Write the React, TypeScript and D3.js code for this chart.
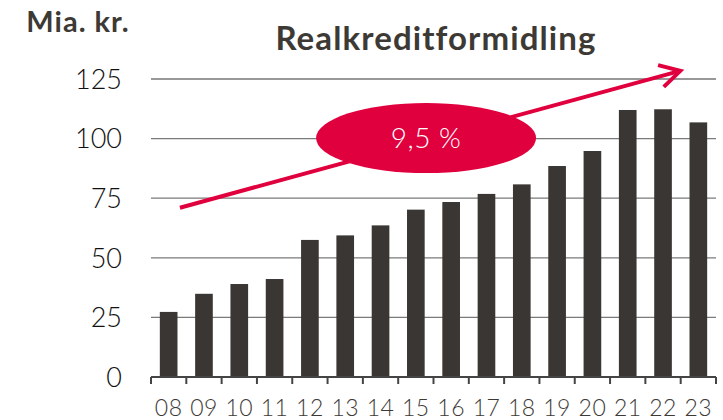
import React, { useEffect, useRef } from 'react';
import * as d3 from 'd3';

const years = ['08', '09', '10', '11', '12', '13', '14', '15', '16', '17', '18', '19', '20', '21', '22', '23'];
const volumes = [27.3, 34.9, 39.0, 41.1, 57.5, 59.4, 63.6, 70.2, 73.4, 76.8, 80.8, 88.5, 94.8, 112.0, 112.3, 106.8];
const yTicks = [0, 25, 50, 75, 100, 125];
const growthLabel = '9,5 %';
const trendStart = { i: 0.82, v: 71 };
const trendEnd = { i: 14.99, v: 128.4 };
const bubble = { i: 7.79, v: 100.2 };

const W = 723;
const H = 420;
const RED = '#e0003e';
const DARK = '#3a3633';

const App: React.FC = () => {
  const svgRef = useRef<SVGSVGElement>(null);

  useEffect(() => {
    if (!svgRef.current) return;
    const svg = d3.select(svgRef.current);
    svg.selectAll('*').remove();

    const left = 151;
    const right = 716;
    const bottom = 377;
    const top = 79;

    const x = d3.scaleBand<string>()
      .domain(years)
      .range([left, right])
      .paddingInner(0.5)
      .paddingOuter(0.25);
    const xi = d3.scaleLinear().domain([0, years.length]).range([left, right]);
    const y = d3.scaleLinear().domain([0, 125]).range([bottom, top]);

    // gridlines
    svg.append('g')
      .selectAll('line')
      .data(yTicks.filter(t => t > 0))
      .enter()
      .append('line')
      .attr('x1', left)
      .attr('x2', right)
      .attr('y1', (d: number) => y(d))
      .attr('y2', (d: number) => y(d))
      .attr('stroke', (d: number) => (d === 125 ? '#333' : '#7a7a7a'))
      .attr('stroke-width', 1.2);

    // y labels
    svg.append('g')
      .selectAll('text')
      .data(yTicks)
      .enter()
      .append('text')
      .attr('x', 122)
      .attr('y', (d: number) => y(d))
      .attr('dy', '0.36em')
      .attr('text-anchor', 'end')
      .style('font-family', 'Lato, sans-serif')
      .style('font-weight', 300)
      .style('font-size', '27px')
      .style('fill', '#111')
      .text((d: number) => String(d));

    // bars
    svg.append('g')
      .selectAll('rect')
      .data(volumes)
      .enter()
      .append('rect')
      .attr('x', (_: number, i: number) => x(years[i]) as number)
      .attr('width', x.bandwidth())
      .attr('y', (d: number) => y(d))
      .attr('height', (d: number) => bottom - y(d))
      .attr('fill', DARK);

    // x axis
    svg.append('line')
      .attr('x1', left)
      .attr('x2', right)
      .attr('y1', bottom)
      .attr('y2', bottom)
      .attr('stroke', '#444')
      .attr('stroke-width', 2);

    svg.append('g')
      .selectAll('line')
      .data(d3.range(years.length + 1))
      .enter()
      .append('line')
      .attr('x1', (d: number) => xi(d))
      .attr('x2', (d: number) => xi(d))
      .attr('y1', bottom)
      .attr('y2', bottom + 7)
      .attr('stroke', '#444')
      .attr('stroke-width', 2);

    svg.append('g')
      .selectAll('text')
      .data(years)
      .enter()
      .append('text')
      .attr('x', (d: string) => (x(d) as number) + x.bandwidth() / 2)
      .attr('y', 416)
      .attr('text-anchor', 'middle')
      .style('font-family', 'Lato, sans-serif')
      .style('font-weight', 300)
      .style('font-size', '23px')
      .style('letter-spacing', '0.5px')
      .style('fill', '#3d3935')
      .text((d: string) => d);

    // trend arrow
    const x0 = xi(trendStart.i);
    const y0 = y(trendStart.v);
    const x1 = xi(trendEnd.i);
    const y1 = y(trendEnd.v);
    svg.append('line')
      .attr('x1', x0)
      .attr('y1', y0)
      .attr('x2', x1 - 2)
      .attr('y2', y1 + 0.5)
      .attr('stroke', RED)
      .attr('stroke-width', 4);

    const back = Math.atan2(y0 - y1, x0 - x1);
    const armLen = 23;
    const arm = (a: number): [number, number] => [x1 + armLen * Math.cos(back + a), y1 + armLen * Math.sin(back + a)];
    const head = d3.line()([arm(0.52), [x1, y1], arm(-0.5)]);
    svg.append('path')
      .attr('d', head)
      .attr('fill', 'none')
      .attr('stroke', RED)
      .attr('stroke-width', 4)
      .attr('stroke-linejoin', 'miter');

    // growth bubble
    svg.append('ellipse')
      .attr('cx', xi(bubble.i))
      .attr('cy', y(bubble.v))
      .attr('rx', 110)
      .attr('ry', 35)
      .attr('fill', RED);

    svg.append('text')
      .attr('x', xi(bubble.i))
      .attr('y', y(bubble.v))
      .attr('dy', '0.36em')
      .attr('text-anchor', 'middle')
      .style('font-family', 'Lato, sans-serif')
      .style('font-weight', 300)
      .style('font-size', '28px')
      .style('letter-spacing', '0.5px')
      .style('fill', '#fff')
      .text(growthLabel);

    // titles
    svg.append('text')
      .attr('x', 78)
      .attr('y', 32)
      .attr('text-anchor', 'middle')
      .style('font-family', 'Lato, sans-serif')
      .style('font-weight', 700)
      .style('font-size', '29px')
      .style('letter-spacing', '1px')
      .style('fill', '#3d3935')
      .text('Mia. kr.');

    svg.append('text')
      .attr('x', 436)
      .attr('y', 50)
      .attr('text-anchor', 'middle')
      .style('font-family', 'Lato, sans-serif')
      .style('font-weight', 700)
      .style('font-size', '33px')
      .style('letter-spacing', '1.1px')
      .style('fill', '#3d3935')
      .text('Realkreditformidling');
  }, []);

  return (
    <svg
      ref={svgRef}
      width={W}
      height={H}
      style={{ position: 'absolute', left: 0, top: 0, background: '#fff' }}
    />
  );
};

export default App;
